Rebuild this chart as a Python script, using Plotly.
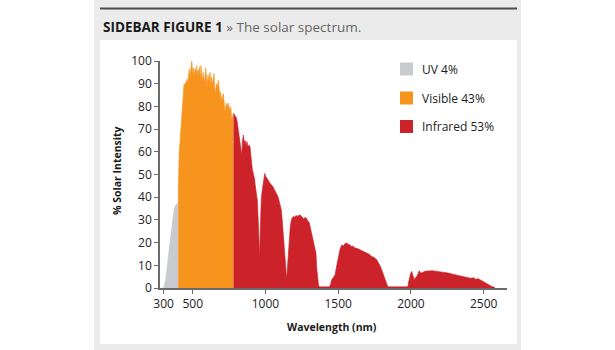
import plotly.graph_objects as go

# ---------------- data ----------------
UV_WL = [295, 305, 315, 322, 330, 338, 345, 352, 360, 367, 373, 378, 385, 392, 397, 400]
UV_I = [0, 1, 4, 9, 13, 17, 21, 25, 30, 33.5, 35, 36, 36.5, 37, 37.5, 41]

VIS_WL = [400, 403, 407, 412, 418, 425, 432, 440, 448, 455, 460, 465, 470, 476, 482, 488,
          493, 497, 502, 507, 512, 517, 522, 527, 532, 537, 542, 547, 552, 557, 562, 567,
          572, 577, 582, 589, 594, 600, 605, 611, 619, 624, 630, 636, 641, 646, 651, 656,
          662, 668, 676, 681, 686, 690, 696, 703, 710, 716, 720, 723, 727, 734, 740, 745,
          750, 755, 761, 765, 770, 775, 780]
VIS_I = [41, 55, 60, 64, 70, 78, 86, 90, 89.5, 91, 92, 90, 95, 96.5, 93, 98,
         100, 97, 94, 97, 93.5, 96.5, 95, 98, 93, 96, 95, 97.5, 92, 98, 94, 91,
         95, 93, 90, 97, 92, 89, 94, 91, 95, 89, 93, 90, 92, 94.5, 88, 86,
         90, 88.5, 91.5, 86, 85, 86.5, 83, 84, 85.7, 82, 80, 77, 80, 81.5, 80, 81.3,
         79.5, 78.5, 79.8, 77.6, 74, 76, 77]

IR_WL = [780, 790, 800, 806, 812, 818, 825, 832, 837, 842, 848, 854, 860, 866, 873, 880,
         887, 894, 899, 903, 910, 918, 925, 932, 938, 944, 950, 955, 960, 965, 972, 980,
         988, 995, 1003, 1010, 1018, 1027, 1035, 1044, 1052, 1060, 1070, 1078, 1086, 1095,
         1102, 1109, 1115, 1121, 1130, 1137, 1142, 1146, 1150, 1155, 1162, 1170, 1178, 1184,
         1189, 1200, 1210, 1220, 1230, 1240, 1250, 1260, 1270, 1281, 1290, 1300, 1306, 1315,
         1322, 1329, 1338, 1347, 1352, 1358, 1365, 1372, 1400, 1439, 1447, 1455, 1465, 1478,
         1490, 1501, 1512, 1524, 1535, 1545, 1558, 1570, 1581, 1590, 1600, 1615, 1630, 1650,
         1665, 1680, 1696, 1710, 1730, 1745, 1765, 1780, 1790, 1799, 1810, 1822, 1830, 1838,
         1845, 1900, 1978, 1985, 1993, 1998, 2005, 2012, 2018, 2023, 2030, 2040, 2050, 2057,
         2065, 2075, 2085, 2092, 2110, 2131, 2150, 2170, 2188, 2210, 2230, 2257, 2280, 2300,
         2325, 2350, 2370, 2394, 2410, 2430, 2445, 2463, 2480, 2495, 2509, 2525, 2540, 2555,
         2570, 2578]
IR_I = [77, 76, 75, 73, 70, 68, 66, 61, 58.6, 65, 67.4, 64, 65, 63, 64.5, 62,
        63, 62.2, 58, 54, 52, 50, 48, 44, 42, 38.8, 30, 20, 13.9, 28, 40.2, 44,
        48, 50.5, 49, 48.5, 47.6, 46.5, 46, 45, 44.6, 43.5, 42, 41, 40.2, 38,
        36, 34.4, 30, 24.3, 16, 11, 6, 3.6, 8, 13.9, 20, 27, 30, 31,
        31.5, 31.2, 32, 31.5, 32.2, 32, 31.5, 30.5, 31, 30.8, 29.5, 29, 27.1, 24,
        22, 21.2, 18, 15.4, 9, 4, 1, 0.5, 0.5, 0.5, 1.5, 3.6, 4.5, 5.8,
        10, 13.9, 17, 19, 18.5, 19.5, 19.8, 19.2, 19, 18.3, 18.5, 17.6, 17.5, 16.8,
        16.3, 16, 15.4, 15, 13.9, 13.5, 12.4, 11, 9.5, 8, 6, 3.6, 2, 1,
        0.5, 0.5, 0.5, 3, 5.8, 6.5, 7.3, 6, 4, 3.6, 4.5, 5.1, 6.5, 7.6,
        6.8, 6.6, 7, 7.3, 7.5, 7.7, 7.6, 7.4, 7.3, 7, 6.9, 6.6, 6.2, 5.9,
        5.5, 5.2, 4.8, 4.7, 4.3, 4.5, 3.9, 4.1, 3.5, 3, 2.2, 1.6, 1.2, 0.7,
        0.4, 0]

SERIES_NAMES = ["UV 4%", "Visible 43%", "Infrared 53%"]
SERIES_COLORS = ["#C8CACD", "#F7941E", "#CC2229"]

X_TICKS = [300, 500, 1000, 1500, 2000, 2500]
Y_TICKS = list(range(0, 101, 10))
X_RANGE = [275, 2660]
Y_RANGE = [0, 100]

TITLE_BOLD = "SIDEBAR FIGURE 1"
TITLE_REST = "» The solar spectrum."
X_TITLE = "Wavelength (nm)"
Y_TITLE = "% Solar Intensity"

# ---------------- layout geometry ----------------
W, H = 615, 350
ML, MR, MT, MB = 160, 108, 61, 62
PW, PH = W - ML - MR, H - MT - MB


def px(x):
    return (x - ML) / PW


def py(y):
    return (H - MB - y) / PH


fig = go.Figure()
for wl, inten, name, col in zip([UV_WL, VIS_WL, IR_WL], [UV_I, VIS_I, IR_I], SERIES_NAMES, SERIES_COLORS):
    fig.add_trace(go.Scatter(x=wl, y=inten, mode="lines", fill="tozeroy", fillcolor=col,
                             line=dict(color=col, width=0.6), name=name, showlegend=False,
                             hoverinfo="skip"))

shapes = [
    dict(type="rect", xref="paper", yref="paper", x0=px(94), x1=px(521), y0=py(350), y1=py(0),
         fillcolor="#EBEBEB", line=dict(width=0), layer="below"),
    dict(type="rect", xref="paper", yref="paper", x0=px(100), x1=px(517), y0=py(344), y1=py(40),
         fillcolor="#FFFFFF", line=dict(width=0), layer="below"),
    dict(type="line", xref="paper", yref="paper", x0=px(100), x1=px(517), y0=py(8.5), y1=py(8.5),
         line=dict(color="#4D4D4D", width=2.2)),
]

annotations = [
    dict(xref="paper", yref="paper", x=px(101), y=py(26.5), xanchor="left", yanchor="middle",
         showarrow=False,
         text=f"<b>{TITLE_BOLD}</b> <span style='color:#666666'>{TITLE_REST}</span>",
         font=dict(family="Open Sans", size=13.5, color="#1A1A1A")),
    dict(xref="paper", yref="paper", x=px(332), y=py(327), xanchor="center", yanchor="middle",
         showarrow=False, text=f"<b>{X_TITLE}</b>",
         font=dict(family="Open Sans", size=10.5, color="#1A1A1A")),
    dict(xref="paper", yref="paper", x=px(117), y=py(171), xanchor="center", yanchor="middle",
         showarrow=False, text=f"<b>{Y_TITLE}</b>", textangle=-90,
         font=dict(family="Open Sans", size=10.5, color="#1A1A1A")),
]

LEG_Y = [69, 98, 126.5]
for name, col, ly in zip(SERIES_NAMES, SERIES_COLORS, LEG_Y):
    shapes.append(dict(type="rect", xref="paper", yref="paper", x0=px(400), x1=px(413),
                       y0=py(ly + 6.5), y1=py(ly - 6.5), fillcolor=col, line=dict(width=0)))
    annotations.append(dict(xref="paper", yref="paper", x=px(420), y=py(ly), xanchor="left",
                            yanchor="middle", showarrow=False, text=name,
                            font=dict(family="Open Sans", size=12, color="#222222")))

axis_common = dict(showline=True, linecolor="#6B6B6B", linewidth=1.5, ticks="outside",
                   ticklen=4, tickwidth=1.2, tickcolor="#6B6B6B", showgrid=False, zeroline=False,
                   tickfont=dict(family="Open Sans", size=12, color="#222222"))

fig.update_layout(
    width=W, height=H, margin=dict(l=ML, r=MR, t=MT, b=MB),
    paper_bgcolor="#FFFFFF", plot_bgcolor="rgba(0,0,0,0)",
    xaxis=dict(range=X_RANGE, tickvals=X_TICKS, ticktext=[str(v) for v in X_TICKS], **axis_common),
    yaxis=dict(range=Y_RANGE, tickvals=Y_TICKS, ticktext=[str(v) for v in Y_TICKS], **axis_common),
    shapes=shapes, annotations=annotations, showlegend=False,
)

fig.write_html("out.html")
